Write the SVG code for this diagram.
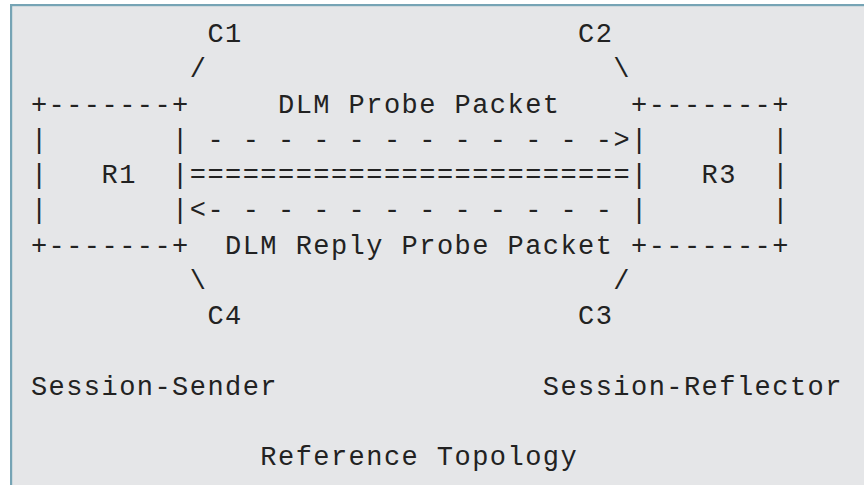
<svg xmlns="http://www.w3.org/2000/svg" width="864" height="485" viewBox="0 0 864 485">
  <style>
    text { font-family: "Liberation Mono", "DejaVu Sans Mono", monospace; font-size: 27px; letter-spacing: 1.45px; fill: #222222; white-space: pre; }
  </style>
  <!-- page panel with framed top and left edges -->
  <rect x="0" y="0" width="864" height="485" fill="#ffffff"/>
  <rect x="11" y="5" width="853" height="480" fill="#e5e6e8"/>
  <rect x="10" y="4" width="854" height="2.2" fill="#76a4b5"/>
  <rect x="10" y="4" width="2.2" height="481" fill="#76a4b5"/>

  <!-- monospace grid: column c at x = 30.9 + 17.65*c, row r baseline at 42 + 35.25*r -->
  <g id="R1">
    <text x="30.9" y="112.5">+-------+</text>
    <text x="30.9" y="147.75">|</text>
    <text x="172.1" y="147.75">|</text>
    <text x="30.9" y="183">|</text>
    <text x="101.5" y="183">R1</text>
    <text x="172.1" y="183">|</text>
    <text x="30.9" y="218.25">|</text>
    <text x="172.1" y="218.25">|</text>
    <text x="30.9" y="253.5">+-------+</text>
  </g>

  <g id="R3">
    <text x="631" y="112.5">+-------+</text>
    <text x="631" y="147.75">|</text>
    <text x="772.2" y="147.75">|</text>
    <text x="631" y="183">|</text>
    <text x="701.6" y="183">R3</text>
    <text x="772.2" y="183">|</text>
    <text x="631" y="218.25">|</text>
    <text x="772.2" y="218.25">|</text>
    <text x="631" y="253.5">+-------+</text>
  </g>

  <g id="connectors">
    <text x="207.4" y="147.75">- - - - - - - - - - - -&gt;</text>
    <text x="189.75" y="183">=========================</text>
    <text x="189.75" y="218.25">&lt;- - - - - - - - - - - -</text>
    <text x="189.75" y="77.25">/</text>
    <text x="613.35" y="77.25">\</text>
    <text x="189.75" y="288.75">\</text>
    <text x="613.35" y="288.75">/</text>
  </g>

  <g id="C1"><text x="207.4" y="42">C1</text></g>
  <g id="C2"><text x="578.05" y="42">C2</text></g>
  <g id="C4"><text x="207.4" y="324">C4</text></g>
  <g id="C3"><text x="578.05" y="324">C3</text></g>

  <g id="labels">
    <text x="278" y="112.5">DLM Probe Packet</text>
    <text x="225.05" y="253.5">DLM Reply Probe Packet</text>
    <text x="30.9" y="394.5">Session-Sender</text>
    <text x="542.75" y="394.5">Session-Reflector</text>
    <text x="260.35" y="465">Reference Topology</text>
  </g>
</svg>
